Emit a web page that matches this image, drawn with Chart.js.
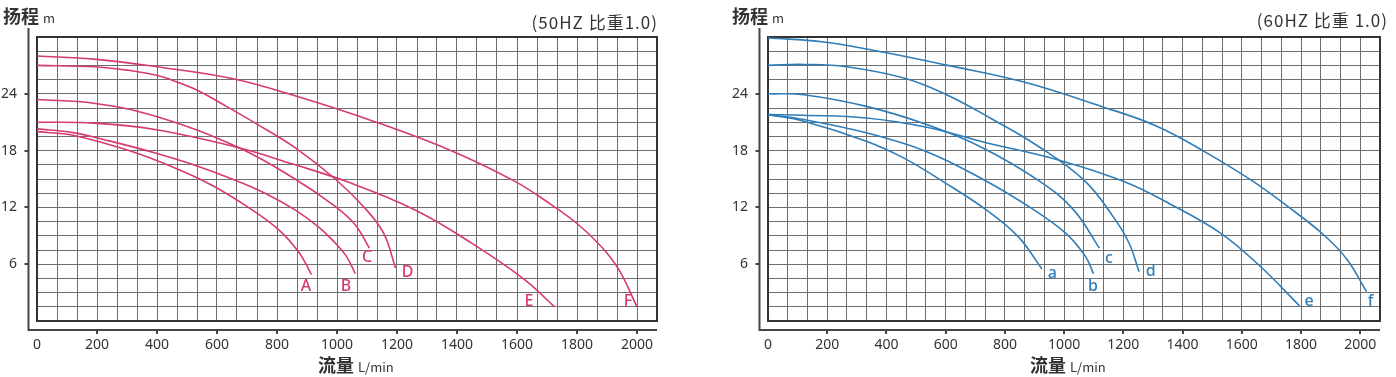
<!DOCTYPE html>
<html>
<head>
<meta charset="utf-8">
<script src="https://cdn.jsdelivr.net/npm/chart.js@4.4.0/dist/chart.umd.min.js"></script>
<style>
body{margin:0;background:#fff;width:1396px;height:377px;position:relative;overflow:hidden;font-family:"Noto Sans CJK SC","Noto Sans",sans-serif;color:#333}
.box{position:absolute;top:0;width:698px;height:377px}
.t{position:absolute;white-space:nowrap;line-height:18px}
.b{font-weight:bold}
</style>
</head>
<body>
<div class="box" style="left:0"><canvas id="c50" width="698" height="377"></canvas></div>
<div class="box" style="left:698px"><canvas id="c60" width="698" height="377"></canvas></div>

<div class="t" style="left:3px;top:6px;font-size:18px"><span class="b">扬程</span> <span style="font-size:13px">m</span></div>
<div class="t" style="left:732px;top:6px;font-size:18px"><span class="b">扬程</span> <span style="font-size:13px">m</span></div>
<div class="t" style="right:738px;top:13px;font-size:17px;letter-spacing:1px">(50HZ 比重1.0)</div>
<div class="t" style="right:8px;top:11px;font-size:17px;letter-spacing:1px">(60HZ 比重 1.0)</div>
<div class="t" style="left:318px;top:355px;font-size:18px"><span class="b">流量</span> <span style="font-size:13px">L/min</span></div>
<div class="t" style="left:1030px;top:355px;font-size:18px"><span class="b">流量</span> <span style="font-size:13px">L/min</span></div>

<script>
// 50Hz curves (flow L/min, head m)
const flowA = [0, 123, 311, 458, 580, 700, 807, 874, 915];
const headA = [20.0, 19.6, 17.96, 16.2, 14.4, 12.1, 9.6, 7.2, 4.9];
const flowB = [0, 120, 244, 400, 512, 650, 760, 860, 940, 994, 1030, 1061];
const headB = [20.3, 19.9, 19.0, 17.7, 16.6, 15.0, 13.5, 11.74, 9.9, 8.24, 6.9, 5.0];
const flowC = [0, 190, 398, 673, 860, 994, 1060, 1108];
const headC = [23.4, 23.0, 21.6, 18.3, 15.0, 12.1, 10.2, 7.7];
const flowD = [0, 190, 300, 398, 470, 539, 630, 726, 860, 994, 1088, 1155, 1195];
const headD = [27.0, 26.86, 26.5, 25.95, 25.2, 24.3, 22.7, 20.93, 18.31, 15.0, 12.1, 9.3, 5.6];
const flowE = [0, 190, 398, 673, 850, 1030, 1262, 1450, 1624, 1725];
const headE = [21.0, 20.9, 20.2, 18.3, 16.6, 14.75, 11.7, 8.2, 4.4, 1.5];
const flowF = [0, 190, 398, 646, 860, 1128, 1383, 1590, 1700, 1800, 1880, 1940, 2000];
const headF = [28.0, 27.66, 26.86, 25.64, 23.79, 21.03, 17.96, 14.8, 12.6, 10.3, 7.9, 5.4, 1.5];

// 60Hz curves
const flowa = [0, 121, 332, 456, 590, 737, 844, 925];
const heada = [21.8, 21.1, 19.0, 17.26, 14.75, 11.74, 8.94, 5.5];
const flowb = [0, 121, 332, 536, 730, 880, 1005, 1072, 1099];
const headb = [21.8, 21.28, 19.88, 17.89, 14.9, 12.1, 9.29, 6.83, 5.0];
const flowc = [0, 121, 332, 536, 724, 918, 1032, 1119];
const headc = [24.0, 23.9, 22.67, 20.75, 18.31, 14.75, 11.74, 7.7];
const flowd = [0, 121, 265, 462, 603, 750, 911, 1068, 1166, 1219, 1253];
const headd = [27.0, 27.1, 26.86, 25.64, 23.9, 21.45, 18.49, 14.85, 11.0, 8.24, 5.2];
const flowe = [0, 121, 332, 536, 724, 992, 1200, 1353, 1528, 1662, 1795];
const heade = [21.8, 21.73, 21.45, 20.47, 18.94, 16.91, 14.75, 12.44, 9.29, 5.78, 1.6];
const flowf = [0, 188, 395, 603, 858, 1126, 1313, 1474, 1638, 1755, 1876, 1956, 2021];
const headf = [29.9, 29.48, 28.36, 27.03, 25.29, 22.67, 20.58, 17.89, 14.75, 12.1, 9.11, 6.48, 3.1];

// curve name labels
const names50 = ["A", "B", "C", "D", "E", "F"];
const labelX50 = [897, 1030, 1100, 1235, 1640, 1970];
const labelY50 = [3.6, 3.7, 6.76, 5.17, 2.1, 2.1];
const names60 = ["a", "b", "c", "d", "e", "f"];
const labelX60 = [960, 1097, 1151, 1292, 1827, 2035];
const labelY60 = [5.04, 3.6, 6.6, 5.2, 2.04, 2.04];

// axes
const xMax = 2000 + 200 / 3;
const xStep = 200 / 3;
const yMax = 30;
const yStep = 1.5;
const yTickLabels = [6, 12, 18, 24];
const xTickLabels = [0, 200, 400, 600, 800, 1000, 1200, 1400, 1600, 1800, 2000];

function pts(fx, fy) {
  return fx.map(function (v, i) { return { x: v, y: fy[i] }; });
}

function makeChart(id, curves, names, lx, ly, color, yWidth, padRight) {
  const framePlugin = {
    id: "frame" + id,
    beforeDatasetsDraw(chart) {
      const a = chart.chartArea, ctx = chart.ctx;
      ctx.save();
      ctx.strokeStyle = "#333";
      ctx.lineWidth = 2;
      ctx.strokeRect(a.left, a.top, a.right - a.left, a.bottom - a.top);
      ctx.restore();
    },
    afterDraw(chart) {
      const a = chart.chartArea, ctx = chart.ctx;
      const xs = chart.scales.x, ys = chart.scales.y;
      const ox = a.left - 8.5, oy = a.bottom + 9;
      ctx.save();
      ctx.strokeStyle = "#444";
      ctx.lineWidth = 2;
      ctx.beginPath();
      ctx.moveTo(ox, 28);
      ctx.lineTo(ox, oy);
      ctx.lineTo(a.right, oy);
      ctx.stroke();
      xTickLabels.slice(1).forEach(function (v) {
        const px = Math.round(xs.getPixelForValue(v));
        ctx.beginPath();
        ctx.moveTo(px, oy);
        ctx.lineTo(px, oy + 4);
        ctx.stroke();
      });
      yTickLabels.forEach(function (v) {
        const py = Math.round(ys.getPixelForValue(v));
        ctx.beginPath();
        ctx.moveTo(ox, py);
        ctx.lineTo(ox - 4, py);
        ctx.stroke();
      });
      ctx.fillStyle = color;
      ctx.font = '500 16px "Noto Sans"';
      ctx.textAlign = "center";
      ctx.textBaseline = "middle";
      names.forEach(function (n, i) {
        ctx.fillText(n, xs.getPixelForValue(lx[i]), ys.getPixelForValue(ly[i]));
      });
      ctx.restore();
    }
  };

  return new Chart(document.getElementById(id), {
    type: "line",
    data: {
      datasets: curves.map(function (c) {
        return {
          data: pts(c[0], c[1]),
          borderColor: color,
          borderWidth: 1.6,
          pointRadius: 0,
          fill: false,
          tension: 0.4
        };
      })
    },
    options: {
      responsive: false,
      animation: false,
      layout: { padding: { top: 37, right: padRight, left: 0, bottom: 0 } },
      plugins: { legend: { display: false }, tooltip: { enabled: false } },
      scales: {
        x: {
          type: "linear",
          min: 0,
          max: xMax,
          afterFit: function (axis) { axis.height = 56; },
          grid: { color: "#6e6e6e", lineWidth: 1, drawTicks: false },
          border: { display: false },
          ticks: {
            stepSize: xStep,
            autoSkip: false,
            maxRotation: 0,
            padding: 16,
            color: "#333",
            font: { family: "Noto Sans", size: 14 },
            callback: function (v) {
              const r = Math.round(v / 200);
              return Math.abs(v - r * 200) < 1 && r <= 10 ? String(r * 200) : "";
            }
          }
        },
        y: {
          min: 0,
          max: yMax,
          afterFit: function (axis) { axis.width = yWidth; },
          grid: { color: "#6e6e6e", lineWidth: 1, drawTicks: false },
          border: { display: false },
          ticks: {
            stepSize: yStep,
            autoSkip: false,
            padding: 20,
            color: "#333",
            font: { family: "Noto Sans", size: 14 },
            callback: function (v) { return yTickLabels.includes(v) ? String(v) : ""; }
          }
        }
      }
    },
    plugins: [framePlugin]
  });
}

makeChart("c50",
  [[flowA, headA], [flowB, headB], [flowC, headC], [flowD, headD], [flowE, headE], [flowF, headF]],
  names50, labelX50, labelY50, "#d63a6e", 37, 41);
makeChart("c60",
  [[flowa, heada], [flowb, headb], [flowc, headc], [flowd, headd], [flowe, heade], [flowf, headf]],
  names60, labelX60, labelY60, "#2f7db8", 70, 8);
</script>
</body>
</html>
